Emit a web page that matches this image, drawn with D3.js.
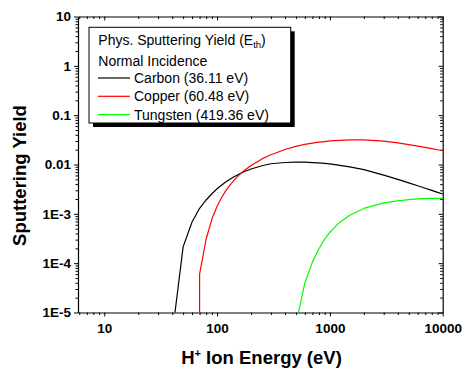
<!DOCTYPE html>
<html>
<head>
<meta charset="utf-8">
<script src="https://cdn.jsdelivr.net/npm/d3@7"></script>
<style>
  body { margin: 0; background: #fff; }
  svg { display: block; }
</style>
</head>
<body>
<svg id="chart" width="462" height="369"></svg>
<script>
// Physical sputtering yield of H+ ions at normal incidence (yield per ion vs ion energy in eV)
const seriesNames = ["Carbon (36.11 eV)", "Copper (60.48 eV)", "Tungsten (419.36 eV)"];
const seriesColors = ["#000000", "#ff0000", "#00ff00"];

const carbonE = [40, 50, 60, 70, 80, 90, 100, 110, 120, 130, 140, 150, 160, 180, 200, 250, 300,
                 400, 500, 600, 700, 800, 900, 1000, 1500, 2000, 3000, 4000, 5000, 6000, 7000,
                 8000, 9000, 10000];
const carbonY = [3.5e-6, 2.14e-4, 6.83e-4, 1.296e-3, 1.91e-3, 2.55e-3, 3.22e-3, 3.85e-3, 4.47e-3,
                 5.03e-3, 5.57e-3, 6.08e-3, 6.56e-3, 7.39e-3, 8.09e-3, 9.44e-3, 1.036e-2,
                 1.097e-2, 1.117e-2, 1.121e-2, 1.094e-2, 1.074e-2, 1.054e-2, 1.034e-2, 8.93e-3,
                 7.9e-3, 6.09e-3, 5.0e-3, 4.24e-3, 3.70e-3, 3.30e-3, 2.98e-3, 2.73e-3, 2.52e-3];

// a yield of 0 marks the energy where the curve leaves the axis floor
const copperE = [70, 70, 80, 90, 100, 110, 120, 130, 140, 150, 160, 180, 200, 250, 300, 400, 500,
                 600, 700, 800, 900, 1000, 1500, 2000, 3000, 4000, 5000, 6000, 7000, 8000, 9000,
                 10000];
const copperY = [0, 6.0e-5, 3.09e-4, 7.84e-4, 1.42e-3, 2.17e-3, 2.99e-3, 3.83e-3, 4.68e-3, 5.54e-3,
                 6.41e-3, 8.02e-3, 9.58e-3, 1.299e-2, 1.58e-2, 2.018e-2, 2.329e-2, 2.556e-2,
                 2.713e-2, 2.831e-2, 2.921e-2, 2.999e-2, 3.147e-2, 3.151e-2, 2.969e-2, 2.732e-2,
                 2.53e-2, 2.364e-2, 2.22e-2, 2.094e-2, 1.992e-2, 1.902e-2];

const tungstenE = [500, 600, 700, 800, 900, 1000, 1200, 1500, 2000, 3000, 4000, 5000, 6000,
                   7000, 8000, 9000, 10000];
const tungstenY = [5.8e-6, 4.0e-5, 1.05e-4, 1.96e-4, 3.08e-4, 4.24e-4, 6.5e-4, 9.37e-4, 1.286e-3,
                   1.669e-3, 1.832e-3, 1.934e-3, 2.004e-3, 2.04e-3, 2.055e-3, 2.056e-3, 2.048e-3];

const xDomain = [5.85, 10000];
const yDomain = [1e-5, 10];
const xMajor = [10, 100, 1000, 10000];
const xTickLabels = ["10", "100", "1000", "10000"];
const yMajor = [10, 1, 0.1, 0.01, 1e-3, 1e-4, 1e-5];
const yTickLabels = ["10", "1", "0.1", "0.01", "1E-3", "1E-4", "1E-5"];

const legendTitle = "Phys. Sputtering Yield (E";
const legendTitleSub = "th";
const legendSubtitle = "Normal Incidence";
const xTitle = ["H", "+", " Ion Energy (eV)"];
const yTitle = "Sputtering Yield";

// ---------------------------------------------------------------------------
const FONT = "'Liberation Sans', Arial, Helvetica, sans-serif";
const plot = { left: 78, right: 442.7, top: 16.5, bottom: 312.5 };
const svg = d3.select("#chart");

const x = d3.scaleLog().domain(xDomain).range([plot.left, plot.right]);
const y = d3.scaleLog().domain(yDomain).range([plot.bottom, plot.top]);

function minorTicks(domain) {
  const lo = Math.min(...domain), hi = Math.max(...domain);
  const out = [];
  for (let e = Math.floor(Math.log10(lo)); e <= Math.ceil(Math.log10(hi)); e++) {
    for (let k = 2; k <= 9; k++) {
      const v = k * Math.pow(10, e);
      if (v > lo && v < hi) out.push(v);
    }
  }
  return out;
}
const xMinor = minorTicks(xDomain);
const yMinor = minorTicks(yDomain);

function styleAxis(g, showDomain) {
  g.select("path.domain").attr("stroke", showDomain ? "#000" : "none").attr("stroke-width", 1.2);
  g.selectAll(".tick line").attr("stroke", "#000").attr("stroke-width", 1);
  g.selectAll(".tick text").attr("fill", "#000")
    .style("font-family", FONT).style("font-weight", "bold").style("font-size", "13.5px");
}

const MAJ = 4, MIN = 2.5;

// bottom axis
svg.append("g").attr("transform", `translate(0,${plot.bottom})`)
  .call(d3.axisBottom(x).tickValues(xMinor).tickFormat("").tickSizeInner(MIN).tickSizeOuter(0))
  .call(g => styleAxis(g, false));
svg.append("g").attr("transform", `translate(0,${plot.bottom})`)
  .call(d3.axisBottom(x).tickValues(xMajor).tickFormat((d, i) => xTickLabels[i])
    .tickSizeInner(MAJ).tickSizeOuter(0).tickPadding(6.5))
  .call(g => styleAxis(g, true));

// top axis (ticks pointing inward)
svg.append("g").attr("transform", `translate(0,${plot.top})`)
  .call(d3.axisBottom(x).tickValues(xMinor).tickFormat("").tickSizeInner(MIN).tickSizeOuter(0))
  .call(g => styleAxis(g, false));
svg.append("g").attr("transform", `translate(0,${plot.top})`)
  .call(d3.axisBottom(x).tickValues(xMajor).tickFormat("").tickSizeInner(MAJ).tickSizeOuter(0))
  .call(g => styleAxis(g, true));

// left axis
svg.append("g").attr("transform", `translate(${plot.left},0)`)
  .call(d3.axisLeft(y).tickValues(yMinor).tickFormat("").tickSizeInner(MIN).tickSizeOuter(0))
  .call(g => styleAxis(g, false));
svg.append("g").attr("transform", `translate(${plot.left},0)`)
  .call(d3.axisLeft(y).tickValues(yMajor).tickFormat((d, i) => yTickLabels[i])
    .tickSizeInner(MAJ).tickSizeOuter(0).tickPadding(3))
  .call(g => styleAxis(g, true));

// right axis (ticks pointing inward)
svg.append("g").attr("transform", `translate(${plot.right},0)`)
  .call(d3.axisLeft(y).tickValues(yMinor).tickFormat("").tickSizeInner(MIN).tickSizeOuter(0))
  .call(g => styleAxis(g, false));
svg.append("g").attr("transform", `translate(${plot.right},0)`)
  .call(d3.axisLeft(y).tickValues(yMajor).tickFormat("").tickSizeInner(MAJ).tickSizeOuter(0))
  .call(g => styleAxis(g, true));

// curves, clipped to the plotting frame
svg.append("clipPath").attr("id", "frame")
  .append("rect")
  .attr("x", plot.left).attr("y", plot.top)
  .attr("width", plot.right - plot.left).attr("height", plot.bottom - plot.top);

const series = [
  { e: carbonE, v: carbonY },
  { e: copperE, v: copperY },
  { e: tungstenE, v: tungstenY }
];
const line = d3.line()
  .x(d => x(d[0]))
  .y(d => d[1] > 0 ? y(d[1]) : plot.bottom + 40);

const curves = svg.append("g").attr("clip-path", "url(#frame)");
series.forEach((s, i) => {
  curves.append("path")
    .datum(s.e.map((e, j) => [e, s.v[j]]))
    .attr("d", line)
    .attr("fill", "none")
    .attr("stroke", seriesColors[i])
    .attr("stroke-width", 1.2)
    .attr("stroke-linejoin", "round");
});

// legend box with drop shadow
const lg = { x: 89, y: 27.3, w: 201.7, h: 95.7, shadow: 4 };
svg.append("rect").attr("x", lg.x + lg.shadow).attr("y", lg.y + lg.shadow)
  .attr("width", lg.w).attr("height", lg.h).attr("fill", "#000");
svg.append("rect").attr("x", lg.x).attr("y", lg.y)
  .attr("width", lg.w).attr("height", lg.h)
  .attr("fill", "#fff").attr("stroke", "#000").attr("stroke-width", 1);

const legendText = svg.append("g")
  .style("font-family", FONT).style("font-size", "14px").attr("fill", "#000");

const t1 = legendText.append("text").attr("x", 98.3).attr("y", 44.5).text(legendTitle);
t1.append("tspan").attr("dy", 3.5).style("font-size", "9.5px").text(legendTitleSub);
t1.append("tspan").attr("dy", -3.5).text(")");

legendText.append("text").attr("x", 98.3).attr("y", 66).text(legendSubtitle);

const rowY = [78, 96.3, 114.6];
seriesNames.forEach((name, i) => {
  legendText.append("line")
    .attr("x1", 98).attr("x2", 130).attr("y1", rowY[i]).attr("y2", rowY[i])
    .attr("stroke", seriesColors[i]).attr("stroke-width", 1.2);
  legendText.append("text").attr("x", 134).attr("y", rowY[i] + 5).text(name);
});

// axis titles
const xt = svg.append("text")
  .attr("x", 261.5).attr("y", 364)
  .attr("text-anchor", "middle")
  .style("font-family", FONT).style("font-weight", "bold").style("font-size", "18.5px")
  .text(xTitle[0]);
xt.append("tspan").attr("dy", -7).style("font-size", "11px").text(xTitle[1]);
xt.append("tspan").attr("dy", 7).text(xTitle[2]);

svg.append("text")
  .attr("transform", "translate(26,175.5) rotate(-90)")
  .attr("text-anchor", "middle")
  .style("font-family", FONT).style("font-weight", "bold").style("font-size", "18.5px")
  .text(yTitle);
</script>
</body>
</html>
